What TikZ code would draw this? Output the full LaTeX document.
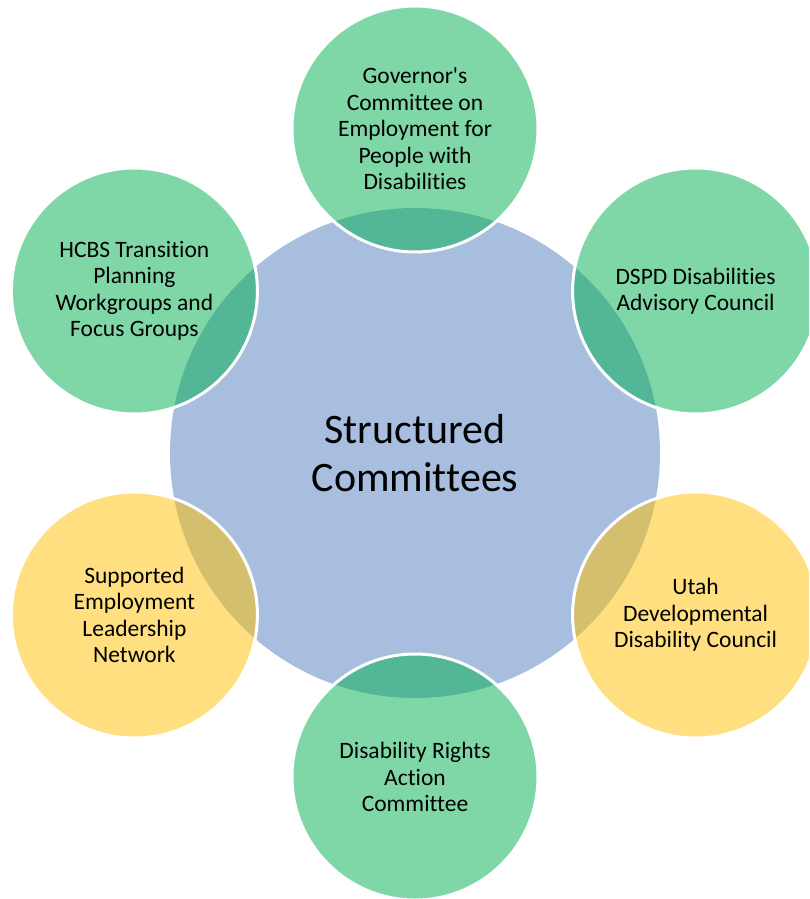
\documentclass[tikz,border=0pt]{standalone}
\usepackage{fontspec}
\setmainfont{Carlito}[Ligatures={NoCommon}]
\definecolor{hubblue}{RGB}{167,190,222}
\definecolor{memgreen}{RGB}{0,176,80}
\definecolor{memyellow}{RGB}{255,192,0}
\begin{document}
\begin{tikzpicture}[x=1pt, y=1pt,
                    hub/.style = {circle, fill=hubblue, minimum size=490pt, inner sep=0pt,
                                  align=center, font=\fontsize{42}{47.5}\selectfont},
                    member/.style = {circle, draw=white, line width=3pt, fill opacity=0.5,
                                     text opacity=1, minimum size=246pt, inner sep=0pt,
                                     align=center, font=\fontsize{23.5}{26.5}\selectfont}]
                    \useasboundingbox (-415,-446) rectangle (394,453);
                    \clip (-415,-446) rectangle (394,453);

                    % Centre
                    \node [hub] (hub) at (0,0) {Structured\\Committees};

                    % Committees round it
                    \node [member, fill=memgreen] (gov) at (90:324)
                        {Governor\textquotesingle s\\Committee on\\Employment for\\People with\\Disabilities};
                    \node [member, fill=memgreen] (dspd) at (30:324)
                        {DSPD Disabilities\\Advisory Council};
                    \node [member, fill=memyellow] (utah) at (-30:324)
                        {Utah\\Developmental\\Disability Council};
                    \node [member, fill=memgreen] (rights) at (-90:324)
                        {Disability Rights\\Action\\Committee};
                    \node [member, fill=memyellow] (sup) at (-150:324)
                        {Supported\\Employment\\Leadership\\Network};
                    \node [member, fill=memgreen] (hcbs) at (150:324)
                        {HCBS Transition\\Planning\\Workgroups and\\Focus Groups};
                \end{tikzpicture}
\end{document}
